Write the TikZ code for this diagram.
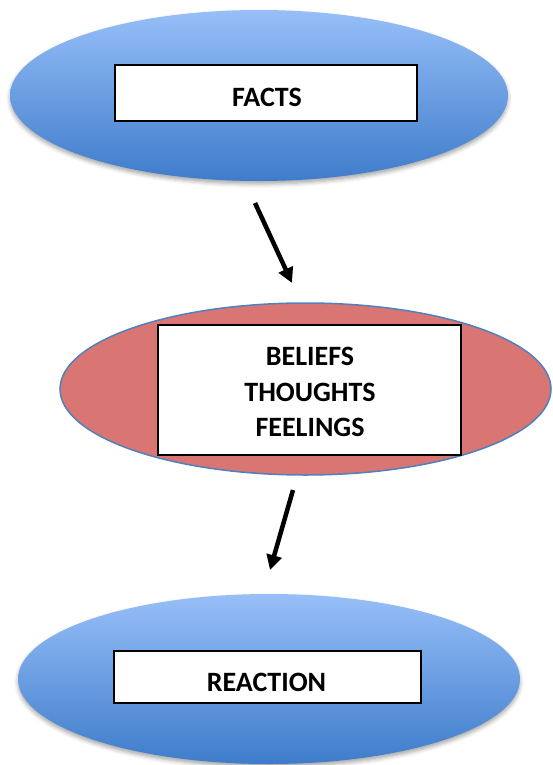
\documentclass[tikz,border=0pt]{standalone}
\usepackage{fontspec}
\setmainfont{Carlito}
\usetikzlibrary{shapes.geometric,arrows.meta,shadows.blur}
\definecolor{bluetop}{HTML}{97BFF8}
\definecolor{bluebot}{HTML}{3E7CCB}
\definecolor{redfill}{HTML}{D97572}
\definecolor{rededge}{HTML}{4F81BD}
\tikzset{
  blueoval/.style={ellipse, inner sep=0pt, top color=bluetop, bottom color=bluebot,
    blur shadow={shadow xshift=0pt, shadow yshift=-3pt, shadow blur radius=4pt, shadow opacity=35}},
  redoval/.style={ellipse, inner sep=0pt, fill=redfill, draw=rededge, line width=1.5pt},
  whitebox/.style={rectangle, draw=black, fill=white, line width=2.2pt, inner sep=0pt},
  lbl/.style={font=\bfseries\fontsize{28}{35.5}\selectfont, align=center, inner sep=0pt},
  bigarrow/.style={line width=4.5pt, -{Triangle[length=15pt,width=15pt]}}
}
\begin{document}
\begin{tikzpicture}[x=1pt,y=-1pt]
\useasboundingbox (0,0) rectangle (552,765);
% ovals
\node[blueoval, minimum width=498pt, minimum height=171pt] (facts) at (259,95.5) {};
\node[redoval, minimum width=491pt, minimum height=172pt] (beliefs) at (305.5,389) {};
\node[blueoval, minimum width=502pt, minimum height=170pt] (reaction) at (269,679) {};
% boxes
\node[whitebox, minimum width=302pt, minimum height=56pt] (factsbox) at (266,93) {};
\node[whitebox, minimum width=303pt, minimum height=130pt] (beliefsbox) at (309.5,390) {};
\node[whitebox, minimum width=307pt, minimum height=52pt] (reactionbox) at (267.5,677) {};
% texts
\node[lbl] (factstext) at (267,97) {FACTS};
\node[lbl] (beliefstext) at (310,392) {BELIEFS\\THOUGHTS\\FEELINGS};
\node[lbl] (reactiontext) at (266.5,682) {REACTION};
% arrows
\coordinate (a1s) at (255,203);
\coordinate (a1e) at (292,283);
\coordinate (a2s) at (293,490);
\coordinate (a2e) at (270,570);
\draw[bigarrow] (a1s) -- (a1e);
\draw[bigarrow] (a2s) -- (a2e);
\end{tikzpicture}
\end{document}
